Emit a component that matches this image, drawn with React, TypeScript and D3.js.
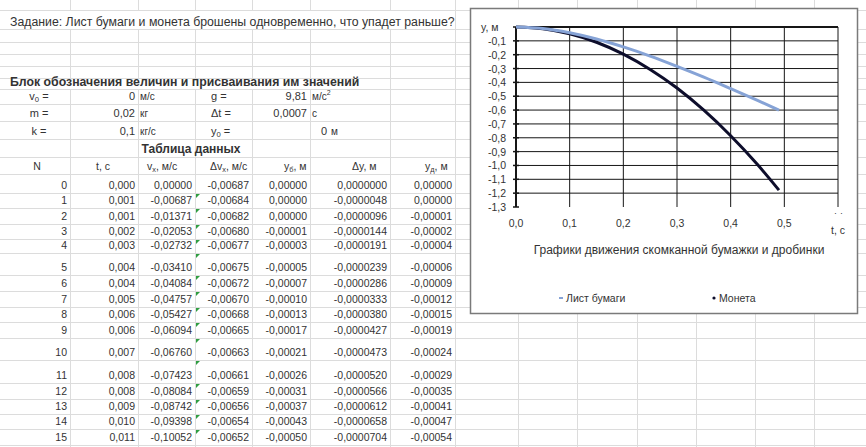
import React from 'react';
import * as d3 from 'd3';

// ---------- chart data ----------
const tValues = [0, 0.05, 0.1, 0.15, 0.2, 0.25, 0.3, 0.35, 0.4, 0.45, 0.49];
const paperY = [0, -0.011, -0.042, -0.087, -0.144, -0.21, -0.284, -0.362, -0.445, -0.53, -0.6];
const coinY = [0, -0.012, -0.049, -0.11, -0.196, -0.307, -0.441, -0.601, -0.785, -0.993, -1.178];
const seriesNames = ['Лист бумаги', 'Монета'];
const xTicks = [0, 0.1, 0.2, 0.3, 0.4, 0.5, 0.6];
const yTicks = [0, -0.1, -0.2, -0.3, -0.4, -0.5, -0.6, -0.7, -0.8, -0.9, -1.0, -1.1, -1.2, -1.3];
const yAxisTitle = 'y, м';
const xAxisTitle = 't, c';
const chartTitle = 'Графики движения  скомканной бумажки и дробинки';

// ---------- sheet texts ----------
const taskText = 'Задание: Лист бумаги и монета брошены одновременно, что упадет раньше?';
const blockTitle = 'Блок обозначения величин и присваивания им значений';
const tableTitle = 'Таблица данных';
const paramNamesA = [['v', '0', ' ='], ['m =', '', ''], ['k =', '', '']];
const paramValuesA = ['0', '0,02', '0,1'];
const paramUnitsA = ['м/с', 'кг', 'кг/с'];
const paramNamesB = [['g =', '', ''], ['Δt =', '', ''], ['y', '0', ' =']];
const paramValuesB = ['9,81', '0,0007', '0'];
const paramUnitsB = ['м/с', 'с', 'м'];
const headers = [['N', '', ''], ['t, c', '', ''], ['v', 'x', ', м/с'], ['Δv', 'x', ', м/с'], ['y', 'б', ', м'], ['Δy, м', '', ''], ['y', 'д', ', м']];
const colN = ['0', '1', '2', '3', '4', '5', '6', '7', '8', '9', '10', '11', '12', '13', '14', '15'];
const colT = ['0,000', '0,001', '0,001', '0,002', '0,003', '0,004', '0,004', '0,005', '0,006', '0,006', '0,007', '0,008', '0,008', '0,009', '0,010', '0,011'];
const colVx = ['0,00000', '-0,00687', '-0,01371', '-0,02053', '-0,02732', '-0,03410', '-0,04084', '-0,04757', '-0,05427', '-0,06094', '-0,06760', '-0,07423', '-0,08084', '-0,08742', '-0,09398', '-0,10052'];
const colDVx = ['-0,00687', '-0,00684', '-0,00682', '-0,00680', '-0,00677', '-0,00675', '-0,00672', '-0,00670', '-0,00668', '-0,00665', '-0,00663', '-0,00661', '-0,00659', '-0,00656', '-0,00654', '-0,00652'];
const colYb = ['0,00000', '0,00000', '0,00000', '-0,00001', '-0,00003', '-0,00005', '-0,00007', '-0,00010', '-0,00013', '-0,00017', '-0,00021', '-0,00026', '-0,00031', '-0,00037', '-0,00043', '-0,00050'];
const colDy = ['0,0000000', '-0,0000048', '-0,0000096', '-0,0000144', '-0,0000191', '-0,0000239', '-0,0000286', '-0,0000333', '-0,0000380', '-0,0000427', '-0,0000473', '-0,0000520', '-0,0000566', '-0,0000612', '-0,0000658', '-0,0000704'];
const colYd = ['0,00000', '0,00000', '-0,00001', '-0,00002', '-0,00004', '-0,00006', '-0,00009', '-0,00012', '-0,00015', '-0,00019', '-0,00024', '-0,00029', '-0,00035', '-0,00041', '-0,00047', '-0,00054'];

// ---------- layout ----------
const W = 866;
const H = 447;
const FONT = '"Liberation Sans", Arial, sans-serif';
const TXT = '#333';
// text centre of each sheet row: title, 4 empty, block title, 3 params, table title, header, 16 data rows
const rowCenters = [21, 34, 46, 58, 70, 81, 96, 113, 131, 149, 166, 185, 200, 216, 231, 245, 267, 283, 299, 314, 330, 352, 375, 391, 406, 421, 437];
const R_BLOCK = 5;
const R_PARAM = 6;
const R_TTITLE = 9;
const R_HEAD = 10;
const R_DATA = 11;
const colLines = [70, 138, 195, 252, 310, 390, 455, 518, 577, 637, 696, 755, 814];
const colRight = [67, 135, 192, 249, 307, 387, 452];
const headerX = [37, 96, 147, 210, 284, 352, 425];

const chartBox = { x: 470, y: 8, w: 387, h: 305 };
const plot = { l: 516, r: 838, t: 27, b: 207 };
const paperColor = '#86a3d6';
const coinColor = '#0d0d2b';

const fmt1 = (v: number) => d3.format('.1f')(v).replace('.', ',').replace('−', '-');

function Sub({ parts, x, y, anchor, size }: { parts: string[]; x: number; y: number; anchor?: string; size: number }) {
  return (
    <text x={x} y={y} textAnchor={anchor || 'start'} fontSize={size}>
      {parts[0]}
      {parts[1] ? (
        <tspan fontSize={size * 0.7} dy={2}>
          {parts[1]}
        </tspan>
      ) : null}
      {parts[2] ? <tspan dy={parts[1] ? -2 : 0}>{parts[2]}</tspan> : null}
    </text>
  );
}

export default function App() {
  const x = d3.scaleLinear().domain([0, 0.6]).range([plot.l, plot.r]);
  const y = d3.scaleLinear().domain([0, -1.3]).range([plot.t, plot.b]);
  const line = d3
    .line<number>()
    .x((_, i) => x(tValues[i]))
    .y((d) => y(d))
    .curve(d3.curveMonotoneX);

  const bottoms = rowCenters.map((c) => Math.round(c + 7.5));
  const tops = [10, ...bottoms.slice(0, -1)];
  const columns = [colN, colT, colVx, colDVx, colYb, colDy, colYd];
  const base = (r: number) => rowCenters[r] + 4;

  return (
    <svg width={W} height={H} style={{ position: 'absolute', left: 0, top: 0, background: '#fff' }} fontFamily={FONT}>
      <rect x={0} y={0} width={W} height={H} fill="#fff" />
      {/* sheet grid */}
      <g stroke="#dcdcdc" strokeWidth={1}>
        {[10, ...bottoms].map((b, i) => (
          <line key={'h' + i} x1={0} x2={W} y1={b + 0.5} y2={b + 0.5} />
        ))}
        {colLines.map((c, i) => (
          <line key={'v' + i} x1={c + 0.5} x2={c + 0.5} y1={0} y2={H} />
        ))}
      </g>

      {/* sheet texts */}
      <g fill={TXT} fontSize={10.5}>
        <rect x={4} y={tops[0] + 1} width={445} height={bottoms[0] - tops[0] - 1} fill="#fff" />
        <text x={10} y={base(0) + 0.5} fontSize={12.3}>{taskText}</text>
        <rect x={4} y={tops[R_BLOCK] + 1} width={362} height={bottoms[R_BLOCK] - tops[R_BLOCK] - 1} fill="#fff" />
        <text x={10} y={base(R_BLOCK) + 0.5} fontWeight="bold" fontSize={12.3}>{blockTitle}</text>
        {paramNamesA.map((n, i) => (
          <g key={'p' + i}>
            <Sub parts={n} x={39} y={base(R_PARAM + i)} anchor="middle" size={11} />
            <text x={135} y={base(R_PARAM + i)} textAnchor="end" fontSize={11}>{paramValuesA[i]}</text>
            <text x={140} y={base(R_PARAM + i)} fontSize={10}>{paramUnitsA[i]}</text>
            <Sub parts={paramNamesB[i]} x={211} y={base(R_PARAM + i)} size={11} />
            <text x={i === 2 ? 327 : 307} y={base(R_PARAM + i)} textAnchor="end" fontSize={11}>{paramValuesB[i]}</text>
            <text x={i === 2 ? 331 : 312} y={base(R_PARAM + i)} fontSize={10}>
              {paramUnitsB[i]}
              {i === 0 ? <tspan fontSize={7} dy={-5}>2</tspan> : null}
            </text>
          </g>
        ))}
        <text x={191} y={base(R_TTITLE)} textAnchor="middle" fontWeight="bold" fontSize={12}>{tableTitle}</text>
        {headers.map((h, i) => (
          <Sub key={'hd' + i} parts={h} x={headerX[i]} y={base(R_HEAD)} anchor={i === 0 ? 'middle' : 'start'} size={10.5} />
        ))}
        {columns.map((col, ci) =>
          col.map((v, ri) => (
            <text key={'c' + ci + '_' + ri} x={colRight[ci]} y={base(R_DATA + ri)} textAnchor="end">
              {v}
            </text>
          ))
        )}
        {colDVx.map((_, ri) =>
          ri === 0 ? null : (
            <path key={'g' + ri} d={`M${colLines[2] + 1},${tops[R_DATA + ri] + 1} l4,0 l-4,4 z`} fill="#2f9e41" />
          )
        )}
      </g>

      {/* chart */}
      <rect x={chartBox.x + 0.5} y={chartBox.y + 0.5} width={chartBox.w} height={chartBox.h} fill="#fff" stroke="#7a7a7a" strokeWidth={1.5} />
      <g stroke="#161616" strokeWidth={1}>
        {xTicks.map((t, i) => (i === 0 ? null : <line key={'gx' + i} x1={x(t)} x2={x(t)} y1={plot.t} y2={plot.b} />))}
        {yTicks.map((t, i) =>
          i === yTicks.length - 1 ? null : (
            <line key={'gy' + i} x1={plot.l} x2={plot.r} y1={y(t)} y2={y(t)} strokeWidth={i === 0 ? 2 : 1} />
          )
        )}
        <line x1={plot.l} x2={plot.l} y1={plot.t} y2={plot.b} strokeWidth={2} />
        {yTicks.map((t, i) => (
          <line key={'tk' + i} x1={plot.l - 3} x2={plot.l + 3} y1={y(t)} y2={y(t)} strokeWidth={1.5} />
        ))}
      </g>
      <path d={line(coinY) || ''} fill="none" stroke={coinColor} strokeWidth={3} />
      <path d={line(paperY) || ''} fill="none" stroke={paperColor} strokeWidth={3} />
      <g fill={TXT} fontSize={10.5}>
        {yTicks.map((t, i) =>
          i === 0 ? (
            <text key={'yl' + i} x={481} y={y(t) + 4}>{yAxisTitle}</text>
          ) : (
            <text key={'yl' + i} x={506} y={y(t) + 4} textAnchor="end">{fmt1(t)}</text>
          )
        )}
        {xTicks.map((t, i) =>
          i === xTicks.length - 1 ? (
            <text key={'xl' + i} x={x(t) + 1} y={plot.b + 14} textAnchor="middle" fontSize={10}>˙ ˙</text>
          ) : (
            <text key={'xl' + i} x={x(t)} y={plot.b + 20} textAnchor="middle">{fmt1(t)}</text>
          )
        )}
        <text x={x(0.6)} y={plot.b + 27} textAnchor="middle">{xAxisTitle}</text>
        <text x={679} y={254} textAnchor="middle" fontSize={12}>{chartTitle}</text>
        <line x1={559} x2={563} y1={298} y2={298} stroke={paperColor} strokeWidth={2} />
        <text x={566} y={302}>{seriesNames[0]}</text>
        <circle cx={714} cy={298} r={1.6} fill={coinColor} />
        <text x={719} y={302}>{seriesNames[1]}</text>
      </g>
    </svg>
  );
}
